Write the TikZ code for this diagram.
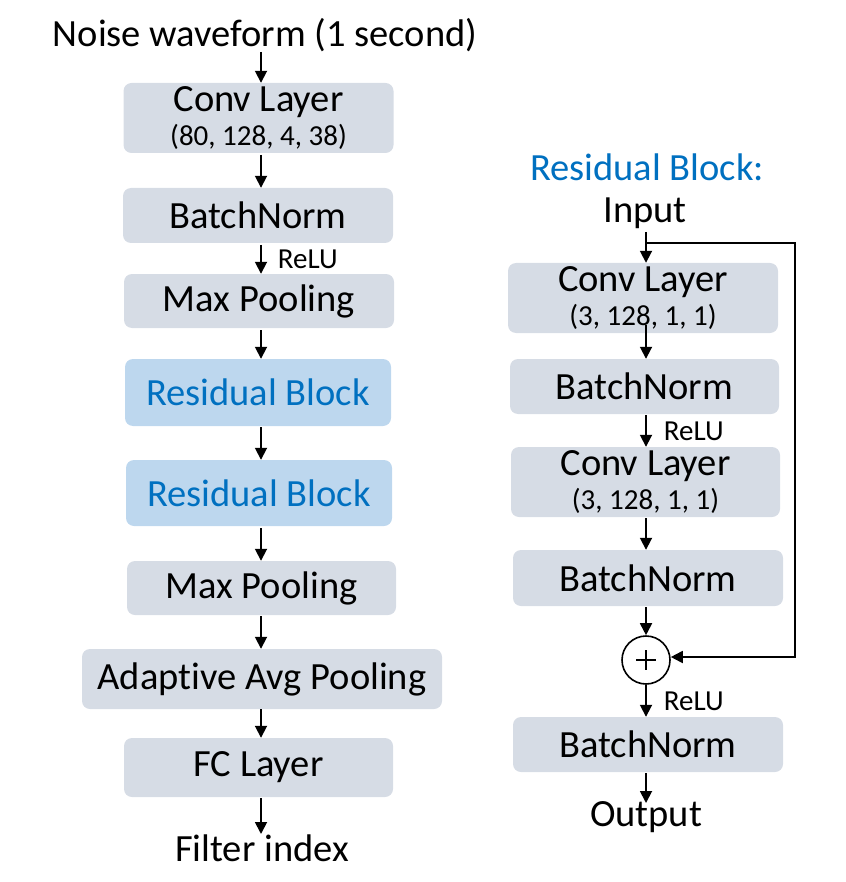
\documentclass[tikz,border=0pt]{standalone}
\usepackage{fontspec}
\setmainfont{Carlito}[Ligatures=NoCommon]
\usetikzlibrary{arrows.meta,calc}
\definecolor{boxgray}{HTML}{D6DCE5}
\definecolor{boxblue}{HTML}{BDD7EE}
\definecolor{txtblue}{HTML}{0070C0}
\tikzset{
  layerbox/.style={fill=boxgray, rounded corners=8pt, inner sep=0pt, align=center, font=\fontsize{38.5}{34}\selectfont},
  resbox/.style={fill=boxblue, rounded corners=8pt, inner sep=0pt, text=txtblue, font=\fontsize{38.5}{34}\selectfont},
  plaintext/.style={inner sep=0pt, font=\fontsize{38.5}{34}\selectfont},
  smalltext/.style={inner sep=0pt, font=\fontsize{29}{34}\selectfont},
  flow/.style={line width=1.8pt, -{Triangle[length=12pt,width=12pt]}},
}
\newcommand{\subline}[1]{\\{\fontsize{29}{34}\selectfont #1}}
\begin{document}
\begin{tikzpicture}[x=1pt,y=-1pt]
\useasboundingbox (0,0) rectangle (845,882);
% ---- left column ----
\node[plaintext] (title) at (265,35) {Noise waveform (1 second)};
\node[layerbox, minimum width=270pt, minimum height=70pt] (conv1) at (258.5,118) {Conv Layer\subline{(80, 128, 4, 38)}};
\node[layerbox, minimum width=270pt, minimum height=55pt] (bn1) at (258,215.5) {BatchNorm};
\node[layerbox, minimum width=270pt, minimum height=54pt] (mp1) at (259,301) {Max Pooling};
\node[resbox, minimum width=266pt, minimum height=67pt] (rb1) at (258,392.5) {Residual Block};
\node[resbox, minimum width=266pt, minimum height=66pt] (rb2) at (259,493) {Residual Block};
\node[layerbox, minimum width=269pt, minimum height=54pt] (mp2) at (261.5,588) {Max Pooling};
\node[layerbox, minimum width=360pt, minimum height=60pt] (aap) at (262,679) {Adaptive Avg Pooling};
\node[layerbox, minimum width=269pt, minimum height=59pt] (fc) at (258.5,767.5) {FC Layer};
\node[plaintext] (out1) at (262,848) {Filter index};

\draw[flow] (261,52) coordinate (t0) -- (t0 |- conv1.north);
\draw[flow] (261,155) coordinate (c0) -- (c0 |- bn1.north);
\draw[flow] (261,245) coordinate (b0) -- (b0 |- mp1.north) node[smalltext, anchor=west, pos=0.5, xshift=16pt] (relu1) {ReLU};
\draw[flow] (261,330) coordinate (m0) -- (m0 |- rb1.north);
\draw[flow] (261,427) coordinate (r0) -- (r0 |- rb2.north);
\draw[flow] (261,528) coordinate (r1) -- (r1 |- mp2.north);
\draw[flow] (261,616) coordinate (m1) -- (m1 |- aap.north);
\draw[flow] (261,709) coordinate (a0) -- (a0 |- fc.north);
\draw[flow] (261,798) coordinate (f0) -- (261,834);

% ---- right column ----
\node[plaintext, text=txtblue] (rtitle) at (647,167) {Residual Block:};
\node[plaintext] (input) at (645,213) {Input};
\node[layerbox, minimum width=270pt, minimum height=70pt] (rconv1) at (643,298) {Conv Layer\subline{(3, 128, 1, 1)}};
\node[layerbox, minimum width=269pt, minimum height=55pt] (rbn1) at (644.5,386.5) {BatchNorm};
\node[layerbox, minimum width=269pt, minimum height=70pt] (rconv2) at (645.5,482) {Conv Layer\subline{(3, 128, 1, 1)}};
\node[layerbox, minimum width=270pt, minimum height=56pt] (rbn2) at (648,578) {BatchNorm};
\node[circle, draw, line width=1.6pt, minimum size=48pt, inner sep=0pt] (plus) at (646,660) {};
\draw[line width=2.4pt] ($(plus.center)+(-10,0)$) -- ($(plus.center)+(10,0)$);
\draw[line width=2.4pt] ($(plus.center)+(0,-10)$) -- ($(plus.center)+(0,10)$);
\node[layerbox, minimum width=270pt, minimum height=55pt] (rbn3) at (648,744.5) {BatchNorm};
\node[plaintext] (output) at (646,817) {Output};

\coordinate (split) at (646,243);
\coordinate (cornerA) at (795,243);
\coordinate (cornerB) at (795,657);
\draw[flow] (646,232) -- (split) -- (split |- rconv1.north);
\draw[flow] (646,325) coordinate (q0) -- (q0 |- rbn1.north);
\draw[flow] (646,415) coordinate (q1) -- (q1 |- rconv2.north) node[smalltext, anchor=west, pos=0.5, xshift=17pt] (relu2) {ReLU};
\draw[flow] (646,518) coordinate (q2) -- (q2 |- rbn2.north);
\draw[flow] (646,607) coordinate (q3) -- (plus.north);
\draw[flow] (plus.south) -- (plus.south |- rbn3.north) node[smalltext, anchor=west, pos=0.5, xshift=17pt] (relu3) {ReLU};
\draw[flow] (646,773) coordinate (q4) -- (646,803);
\draw[flow] (split) -- (cornerA) -- (cornerB) -- (plus.east |- cornerB);
\end{tikzpicture}
\end{document}
